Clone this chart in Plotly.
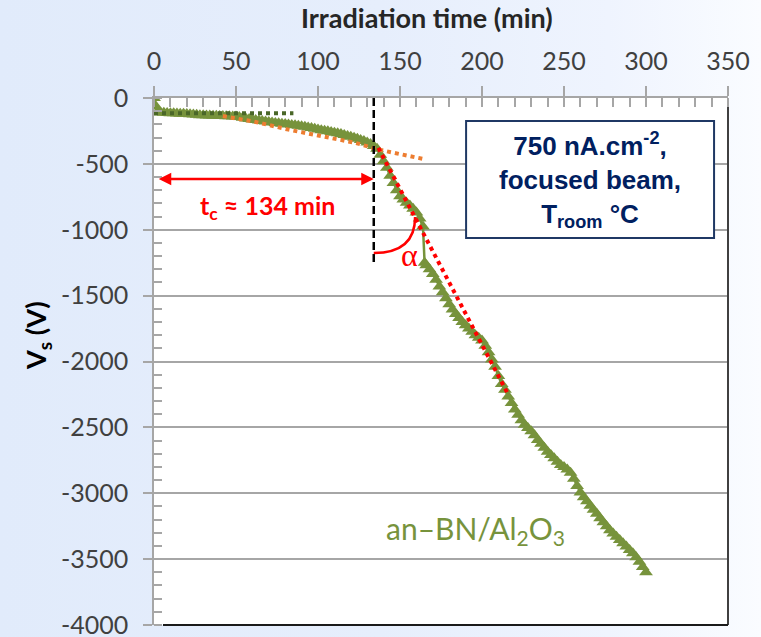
import base64
import plotly.graph_objects as go

# Surface potential Vs of an-BN/Al2O3 under a 750 nA.cm-2 focused beam
time_min = [
    0, 1, 2, 4, 6, 8, 10, 12, 14, 16,
    18, 20, 22, 24, 26, 28, 30, 32, 34, 36,
    38, 40, 42, 44, 46, 48, 50, 52, 54, 56,
    58, 60, 62, 64, 66, 68, 70, 72, 74, 76,
    78, 80, 82, 84, 86, 88, 90, 92, 94, 96,
    98, 100, 102, 104, 106, 108, 110, 112, 114, 116,
    118, 120, 122, 124, 126, 128, 130, 132, 134, 136,
    138, 140, 142, 144, 146, 148, 150, 152, 154, 156,
    158, 160, 162, 164, 165, 166, 168, 170, 172, 174,
    176, 178, 180, 182, 184, 186, 188, 190, 192, 194,
    196, 198, 200, 202, 204, 206, 208, 210, 212, 214,
    216, 218, 220, 222, 224, 226, 228, 230, 232, 234,
    236, 238, 240, 242, 244, 246, 248, 250, 252, 254,
    256, 258, 260, 262, 264, 266, 268, 270, 272, 274,
    276, 278, 280, 282, 284, 286, 288, 290, 292, 294,
    296, 298, 300,
]
vs_volts = [
    0, -60, -105, -110, -112, -113, -115, -116, -118, -119,
    -120, -122, -124, -126, -128, -130, -131, -132, -133, -134,
    -135, -136, -137, -138, -139, -140, -141, -145, -150, -155,
    -159, -163, -167, -171, -175, -179, -183, -186, -189, -192,
    -195, -198, -201, -204, -207, -211, -215, -219, -223, -228,
    -234, -240, -245, -249, -253, -258, -263, -268, -274, -281,
    -288, -295, -302, -310, -318, -327, -338, -350, -365, -385,
    -430, -480, -530, -590, -645, -700, -745, -770, -795, -815,
    -840, -870, -915, -975, -1250, -1270, -1300, -1335, -1380, -1430,
    -1475, -1520, -1565, -1605, -1640, -1670, -1700, -1725, -1750, -1775,
    -1800, -1820, -1840, -1880, -1930, -1985, -2040, -2110, -2170, -2215,
    -2265, -2315, -2365, -2405, -2445, -2480, -2505, -2530, -2560, -2595,
    -2625, -2655, -2685, -2710, -2735, -2760, -2785, -2800, -2820, -2845,
    -2890, -2945, -2995, -3030, -3060, -3095, -3125, -3155, -3190, -3220,
    -3250, -3280, -3305, -3330, -3355, -3380, -3405, -3430, -3455, -3485,
    -3520, -3560, -3600,
]

# Guide lines
plateau_t = [0, 85]
plateau_v = [-115, -115]
pre_fit_t = [42, 62, 82, 102, 123, 137, 164]
pre_fit_v = [-137, -182, -240, -291, -341, -392, -462]
post_fit_t = [136.8, 215.4]
post_fit_v = [-379, -2237]

tc_min = 134
tc_line_v = [0, -1250]

x_ticks = [0, 50, 100, 150, 200, 250, 300, 350]
y_ticks = [0, -500, -1000, -1500, -2000, -2500, -3000, -3500, -4000]
y_tick_text = ["0", "-500", "-1000", "-1500", "-2000", "-2500", "-3000", "-3500", "-4000"]

W, H = 761, 637
ML, MR, MT, MB = 154, 33, 98, 12
PW, PH = W - ML - MR, H - MT - MB

GREEN = "#77933c"
AXIS_GREY = "#a6a6a6"
NAVY = "#002060"
RED = "#ff0000"

fig = go.Figure()

fig.add_trace(go.Scatter(
    x=time_min, y=vs_volts, mode="lines+markers",
    line=dict(color=GREEN, width=2.5),
    marker=dict(symbol="triangle-up", size=12, color=GREEN),
    hoverinfo="skip",
))
fig.add_trace(go.Scatter(
    x=plateau_t, y=plateau_v, mode="lines",
    line=dict(color="#4a6728", width=4, dash="dot"), hoverinfo="skip",
))
fig.add_trace(go.Scatter(
    x=pre_fit_t, y=pre_fit_v, mode="lines",
    line=dict(color="#ed7d31", width=4, dash="dot"), hoverinfo="skip",
))
fig.add_trace(go.Scatter(
    x=post_fit_t, y=post_fit_v, mode="lines",
    line=dict(color=RED, width=4, dash="dot"), hoverinfo="skip",
))
fig.add_trace(go.Scatter(
    x=[tc_min, tc_min], y=tc_line_v, mode="lines",
    line=dict(color="black", width=2.5, dash="8px,4px"), hoverinfo="skip",
))
# carrier for the overlay axis that draws the inner half of major x ticks
fig.add_trace(go.Scatter(
    x=[0], y=[0], xaxis="x2", mode="markers",
    marker=dict(size=1, opacity=0), hoverinfo="skip",
))

# light blue gradient behind the chart
svg = (
    f'<svg xmlns="http://www.w3.org/2000/svg" width="{W}" height="{H}">'
    '<defs><linearGradient id="g" x1="0" y1="0" x2="1" y2="0">'
    '<stop offset="0" stop-color="#e1ebfb"/>'
    '<stop offset="0.5" stop-color="#e6eefc"/>'
    '<stop offset="0.8" stop-color="#eff4fe"/>'
    '<stop offset="1" stop-color="#fafcff"/>'
    '</linearGradient></defs>'
    f'<rect width="{W}" height="{H}" fill="url(#g)"/></svg>'
)
bg_src = "data:image/svg+xml;base64," + base64.b64encode(svg.encode()).decode()


def px_x(px):
    return (px - ML) / PW


def px_y(py):
    return (H - MB - py) / PH


tick_font = dict(family="Lato", size=25, color="#404040")

fig.update_layout(
    width=W, height=H,
    margin=dict(l=ML, r=MR, t=MT, b=MB, pad=0, autoexpand=False),
    paper_bgcolor="#e6eefc",
    plot_bgcolor="white",
    showlegend=False,
    font=dict(family="Lato"),
    images=[dict(
        source=bg_src, xref="paper", yref="paper",
        x=px_x(0), y=px_y(0), sizex=W / PW, sizey=H / PH,
        xanchor="left", yanchor="top", sizing="stretch", layer="below",
    )],
    xaxis=dict(
        range=[0, 350], side="top", tickvals=x_ticks,
        ticks="outside", ticklen=10, tickwidth=1.5, tickcolor=AXIS_GREY,
        showline=True, linecolor=AXIS_GREY, linewidth=1.5,
        showgrid=False, zeroline=False, tickfont=tick_font,
        ticklabelstandoff=6, ticklabeloverflow="allow", automargin=False,
        minor=dict(tickmode="linear", tick0=0, dtick=10, ticks="inside",
                   ticklen=9, tickwidth=1.5, tickcolor=AXIS_GREY, showgrid=False),
        fixedrange=True,
    ),
    xaxis2=dict(
        range=[0, 350], overlaying="x", side="top", anchor="y",
        tickvals=x_ticks, ticks="inside", ticklen=9, tickwidth=1.5,
        tickcolor=AXIS_GREY, showticklabels=False, showline=False,
        showgrid=False, zeroline=False, fixedrange=True, automargin=False,
    ),
    yaxis=dict(
        range=[-4000, 0], tickvals=y_ticks, ticktext=y_tick_text,
        ticks="outside", ticklen=9, tickwidth=1.5, tickcolor=AXIS_GREY,
        showline=True, linecolor=AXIS_GREY, linewidth=1.5,
        showgrid=True, gridcolor=AXIS_GREY, gridwidth=1.5,
        zeroline=False, tickfont=tick_font,
        ticklabelstandoff=10, ticklabeloverflow="allow", automargin=False,
        minor=dict(tickmode="linear", tick0=0, dtick=100, ticks="inside",
                   ticklen=8, tickwidth=1.5, tickcolor=AXIS_GREY, showgrid=False),
        fixedrange=True,
    ),
)

shapes = [
    # white plot area above the gradient
    dict(type="rect", xref="paper", yref="paper", x0=0, x1=1, y0=0, y1=1,
         fillcolor="white", line=dict(width=0), layer="below"),
    # right and bottom frame
    dict(type="line", xref="paper", yref="paper", x0=1, x1=1,
         y0=0, y1=px_y(107), line=dict(color="#404040", width=2)),
    dict(type="line", xref="paper", yref="paper", x0=px_x(163), x1=1,
         y0=0, y1=0, line=dict(color="#1a1a1a", width=2)),
    # angle arc between the vertical at t_c and the fast-charging slope
    dict(type="path", xref="x", yref="y",
         path=f"M {tc_min},-1176 Q 159.2,-1176 159.2,-903",
         line=dict(color=RED, width=2.5)),
    # condition box
    dict(type="rect", xref="x", yref="y", x0=190.3, x1=341.5, y0=-175, y1=-1063,
         fillcolor="white", line=dict(color="#1f3864", width=2), layer="above"),
]
fig.update_layout(shapes=shapes)

annotations = [
    dict(text="<b>Irradiation time (min)</b>", xref="paper", yref="paper",
         x=px_x(427), y=px_y(18), xanchor="center", yanchor="middle",
         showarrow=False, font=dict(family="Lato", size=27, color="#262626")),
    dict(text="<b>V<sub>s</sub> (V)</b>", xref="paper", yref="paper",
         x=px_x(37), y=px_y(336), xanchor="center", yanchor="middle",
         showarrow=False, textangle=-90,
         font=dict(family="Lato", size=27, color="black")),
    # t_c double arrow
    dict(x=tc_min, y=-615, ax=2, ay=-615, xref="x", yref="y", axref="x", ayref="y",
         text="", showarrow=True, arrowhead=2, startarrowhead=2,
         arrowside="end+start", arrowwidth=2.5, arrowsize=1, startarrowsize=1,
         arrowcolor=RED, standoff=0, startstandoff=0),
    dict(text="<b>t<sub>c</sub> ≈ " + str(tc_min) + " min</b>", xref="x", yref="y",
         x=68.9, y=-827, xanchor="center", yanchor="middle", showarrow=False,
         font=dict(family="Lato", size=25, color=RED)),
    dict(text="α", xref="x", yref="y", x=156, y=-1192, xanchor="center",
         yanchor="middle", showarrow=False,
         font=dict(family="Liberation Serif", size=32, color=RED)),
    dict(text="<b>750 nA.cm<sup>-2</sup>,<br>focused beam,<br>T<sub>room</sub> °C</b>",
         xref="x", yref="y", x=265.9, y=-619, xanchor="center", yanchor="middle",
         showarrow=False, align="center",
         font=dict(family="Liberation Sans", size=26, color=NAVY)),
    dict(text="an–BN/Al<sub>2</sub>O<sub>3</sub>", xref="x", yref="y",
         x=195.8, y=-3279, xanchor="center", yanchor="middle", showarrow=False,
         font=dict(family="Lato", size=30, color=GREEN)),
]
fig.update_layout(annotations=annotations)

fig.write_html("out.html")
